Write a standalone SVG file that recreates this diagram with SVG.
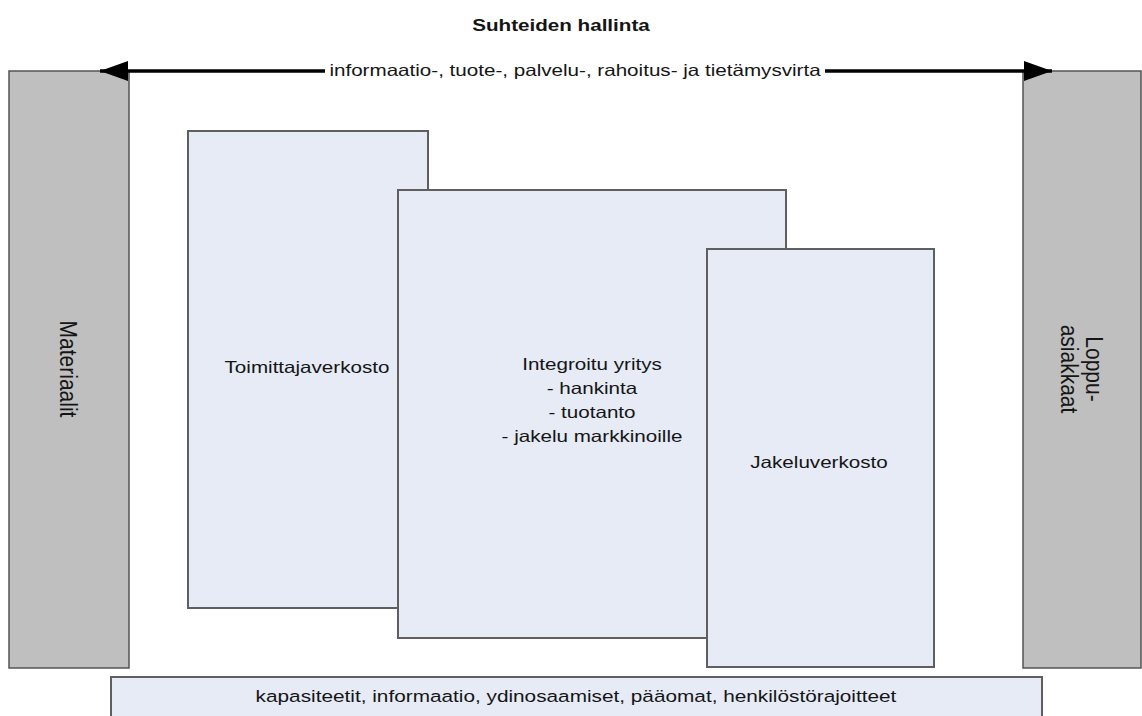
<svg xmlns="http://www.w3.org/2000/svg" width="1142" height="716" viewBox="0 0 1142 716">
<style>
text{font-family:"Liberation Sans",Arial,sans-serif;font-size:16.5px;fill:#151515;text-anchor:middle}
.v{font-size:21px}
.gray{fill:#bfbfbf;stroke:#555;stroke-width:1.5}
.blue{fill:#e6ebf5;stroke:#5f5f5f;stroke-width:2}
.flow{stroke:#000;stroke-width:3.5;fill:none}
</style>
<defs>
<marker id="ah" viewBox="0 0 28 20" refX="28" refY="10" markerWidth="28" markerHeight="20" markerUnits="userSpaceOnUse" orient="auto">
<path d="M0,0 L28,10 L0,20 Z" fill="#000"/>
</marker>
</defs>
<rect width="1142" height="716" fill="#fff"/>
<g id="title"><text transform="translate(561,31) scale(1.25,1)" style="font-weight:bold">Suhteiden hallinta</text></g>
<g id="materiaalit">
<rect class="gray" x="9" y="71" width="120" height="597"/>
<text class="v" transform="translate(68,369) scale(1.1,1) rotate(90)" dy=".35em">Materiaalit</text>
</g>
<g id="loppuasiakkaat">
<rect class="gray" x="1023" y="71" width="118" height="597"/>
<text class="v" transform="translate(1094,369) scale(1.1,1) rotate(90)" dy=".35em">Loppu-</text>
<text class="v" transform="translate(1069,369) scale(1.1,1) rotate(90)" dy=".35em">asiakkaat</text>
</g>
<g id="toimittajaverkosto">
<rect class="blue" x="188" y="131" width="240" height="477"/>
<text transform="translate(307,373) scale(1.25,1)">Toimittajaverkosto</text>
</g>
<g id="integroitu">
<rect class="blue" x="398" y="190" width="388" height="448"/>
<text transform="translate(592,370) scale(1.25,1)">Integroitu yritys</text>
<text transform="translate(592,394) scale(1.25,1)">- hankinta</text>
<text transform="translate(592,418) scale(1.25,1)">- tuotanto</text>
<text transform="translate(592,442) scale(1.25,1)">- jakelu markkinoille</text>
</g>
<g id="jakeluverkosto">
<rect class="blue" x="707" y="249" width="227" height="418"/>
<text transform="translate(819,468) scale(1.25,1)">Jakeluverkosto</text>
</g>
<g id="resurssit">
<rect class="blue" x="111" y="677" width="931" height="50"/>
<text transform="translate(576,702) scale(1.26,1)">kapasiteetit, informaatio, ydinosaamiset, pääomat, henkilöstörajoitteet</text>
</g>
<g id="connectors">
<line class="flow" x1="325" y1="71" x2="100" y2="71" marker-end="url(#ah)"/>
<line class="flow" x1="825" y1="71" x2="1052" y2="71" marker-end="url(#ah)"/>
<text transform="translate(575,76) scale(1.25,1)">informaatio-, tuote-, palvelu-, rahoitus- ja tietämysvirta</text>
</g>
</svg>
